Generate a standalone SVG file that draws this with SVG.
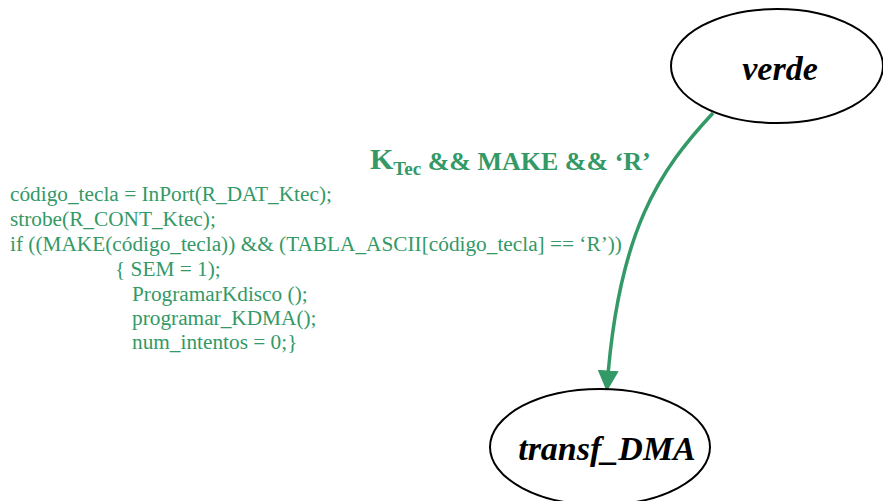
<svg xmlns="http://www.w3.org/2000/svg" width="883" height="501" viewBox="0 0 883 501">
  <style>
    .state { fill: #ffffff; stroke: #000000; stroke-width: 2; }
    .stateLabel { font-family: "Liberation Serif", "DejaVu Serif", serif; font-style: italic; font-weight: bold; font-size: 34px; fill: #000000; text-anchor: middle; }
    .code { font-family: "Liberation Serif", "Times New Roman", serif; font-size: 21.3px; fill: #339966; }
    .cond { font-family: "Liberation Serif", "Times New Roman", serif; font-weight: bold; font-size: 26px; fill: #339966; }
    .edge { fill: none; stroke: #339966; stroke-width: 3.5; }
  </style>
  <defs>
    <marker id="arrow" markerWidth="6" markerHeight="6" refX="5" refY="3" orient="auto" markerUnits="strokeWidth">
      <path d="M0,0 L6,3 L0,6 Z" fill="#339966"/>
    </marker>
  </defs>
  <rect width="883" height="501" fill="#ffffff"/>

  <g id="connectors">
    <path class="edge" d="M713,113 C660,170 618,230 607,388" marker-end="url(#arrow)"/>
    <text class="cond" x="370" y="169"><tspan font-size="30">K</tspan><tspan font-size="19" dy="6">Tec</tspan><tspan dy="-5"> &amp;&amp; MAKE &amp;&amp; ‘R’</tspan></text>
  </g>

  <g id="verde">
    <ellipse class="state" cx="777" cy="66" rx="106" ry="57"/>
    <text class="stateLabel" x="780" y="80">verde</text>
  </g>

  <g id="transf_DMA">
    <ellipse class="state" cx="600" cy="447" rx="110" ry="58"/>
    <text class="stateLabel" x="607" y="460">transf_DMA</text>
  </g>

  <g id="action">
    <text class="code" x="10" y="201">código_tecla = InPort(R_DAT_Ktec);</text>
    <text class="code" x="10" y="226">strobe(R_CONT_Ktec);</text>
    <text class="code" x="10" y="251">if ((MAKE(código_tecla)) &amp;&amp; (TABLA_ASCII[código_tecla] == ‘R’))</text>
    <text class="code" x="115" y="276">{ SEM = 1);</text>
    <text class="code" x="132" y="301">ProgramarKdisco ();</text>
    <text class="code" x="132" y="325">programar_KDMA();</text>
    <text class="code" x="132" y="349">num_intentos = 0;}</text>
  </g>
</svg>
